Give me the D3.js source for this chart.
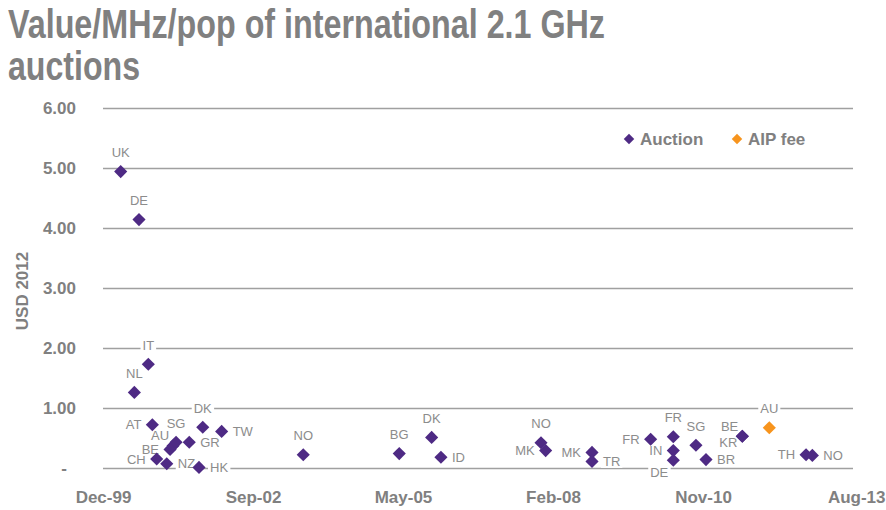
<!DOCTYPE html>
<html>
<head>
<meta charset="utf-8">
<script src="https://cdn.jsdelivr.net/npm/d3@7"></script>
<style>
  html, body { margin: 0; padding: 0; background: #fff; }
  svg { display: block; }
</style>
</head>
<body>
<svg id="chart" width="886" height="510"></svg>
<script>
// ---------- data ----------
const countries = ["UK","NL","DE","IT","AT","CH","NZ","BE","AU","SG","GR","HK","DK","TW",
                   "NO","BG","DK","ID","NO","MK","MK","TR","FR","FR","IN","DE","SG","BR","BE","KR","AU","TH","NO"];
const dates = ["2000-04-02","2000-07-02","2000-08-02","2000-10-03","2000-10-30","2000-11-28","2001-02-03",
               "2001-02-25","2001-03-17","2001-04-06","2001-07-03","2001-09-06","2001-10-01","2002-02-04",
               "2003-08-02","2005-05-03","2005-12-05","2006-02-05","2007-12-04","2008-01-04","2008-11-08",
               "2008-11-08","2009-12-04","2010-05-04","2010-05-04","2010-05-04","2010-10-02","2010-12-08",
               "2011-08-07","2011-08-07","2012-02-03","2012-10-05","2012-11-16"];
const values = [4.94,1.26,4.14,1.73,0.72,0.15,0.07,0.31,0.37,0.43,0.43,0.01,0.68,0.61,
                0.22,0.24,0.51,0.18,0.42,0.29,0.26,0.11,0.48,0.52,0.29,0.13,0.38,0.14,
                0.53,0.53,0.67,0.22,0.21];
const types = ["Auction","Auction","Auction","Auction","Auction","Auction","Auction","Auction","Auction","Auction",
               "Auction","Auction","Auction","Auction","Auction","Auction","Auction","Auction","Auction","Auction",
               "Auction","Auction","Auction","Auction","Auction","Auction","Auction","Auction","Auction","Auction",
               "AIP fee","Auction","Auction"];
const labelPlacement = ["above","above","above","above","left","left","right","left","aboveleft","above","right","right","above","right",
                        "above","above","above","right","above","left","left","right","left","above","left","belowleft","above","right",
                        "aboveleft","belowleft2","above","left","right"];
const seriesNames = ["Auction","AIP fee"];
const seriesColors = ["#4e2a84","#f7941d"];
const yTicks = [0,1,2,3,4,5,6];
const xTickDates = ["1999-12-06","2002-09-01","2005-05-28","2008-02-22","2010-11-18","2013-08-14"];
const xTickLabels = ["Dec-99","Sep-02","May-05","Feb-08","Nov-10","Aug-13"];
const titleLines = ["Value/MHz/pop of international 2.1 GHz","auctions"];
const yTitle = "USD 2012";

// ---------- setup ----------
const parse = d3.utcParse("%Y-%m-%d");
const svg = d3.select("#chart");
const margin = {left: 103, right: 33, top: 108, bottom: 42};
const W = 886, H = 510;
const gray = "#808080";
const font = '"Liberation Sans", Arial, sans-serif';

const x = d3.scaleUtc()
  .domain([parse(xTickDates[0]), parse(xTickDates[xTickDates.length-1])])
  .range([margin.left, W - margin.right]);
const y = d3.scaleLinear().domain([0, 6]).range([H - margin.bottom, margin.top]);
const color = d3.scaleOrdinal().domain(seriesNames).range(seriesColors);

const data = countries.map((c, i) => ({c, date: parse(dates[i]), v: values[i], t: types[i], p: labelPlacement[i]}));

// Title (condensed to match narrow face)
const titleWidths = [597, 132];
svg.append("g").selectAll("text").data(titleLines).join("text")
  .attr("x", 8).attr("y", (d, i) => 38 + i * 42)
  .attr("font-family", font).attr("font-weight", "bold").attr("font-size", 41)
  .attr("textLength", (d, i) => titleWidths[i]).attr("lengthAdjust", "spacingAndGlyphs")
  .attr("fill", gray).text(d => d);

// Gridlines via axis
const yAxis = svg.append("g").attr("transform", `translate(${margin.left},0)`)
  .call(d3.axisLeft(y).tickValues(yTicks).tickSize(-(W - margin.left - margin.right))
        .tickFormat(d => d === 0 ? "-" : d3.format(".2f")(d)));
yAxis.select(".domain").remove();
yAxis.selectAll(".tick line").attr("stroke", "#a0a0a0").attr("stroke-width", 1.3);
yAxis.selectAll(".tick text").attr("x", d => d === 0 ? -36 : -27)
  .attr("font-family", font).attr("font-weight", "bold").attr("font-size", 17).attr("fill", gray);

// X axis labels
const xAxis = svg.append("g").attr("transform", `translate(0,${H - margin.bottom})`)
  .call(d3.axisBottom(x).tickValues(xTickDates.map(parse)).tickSize(0)
        .tickFormat((d, i) => xTickLabels[i]));
xAxis.select(".domain").remove();
xAxis.selectAll(".tick text").attr("dy", 0).attr("y", 35)
  .attr("font-family", font).attr("font-weight", "bold").attr("font-size", 17).attr("fill", gray);
xAxis.selectAll(".tick").filter((d, i) => i === xTickDates.length - 1)
  .select("text").attr("text-anchor", "end").attr("x", 32);

// Y title
svg.append("text")
  .attr("transform", `translate(28,${(y(0) + y(6)) / 2 + 3}) rotate(-90)`)
  .attr("text-anchor", "middle")
  .attr("font-family", font).attr("font-weight", "bold").attr("font-size", 17).attr("fill", gray)
  .text(yTitle);

// Points
const diamond = d3.symbol().type(d3.symbolDiamond2).size(110);
const pts = svg.append("g");
pts.selectAll("path").data(data).join("path")
  .attr("d", diamond)
  .attr("transform", d => `translate(${x(d.date)},${y(d.v)})`)
  .attr("fill", d => color(d.t));

// Labels
const offs = {
  above: {dx: 0, dy: -19, a: "middle"},
  left: {dx: -11, dy: 0, a: "end"},
  right: {dx: 11, dy: 0, a: "start"},
  aboveleft: {dx: -4, dy: -10, a: "end"},
  belowleft: {dx: -5, dy: 12, a: "end"},
  belowleft2: {dx: -5, dy: 6, a: "end"}
};
const lg = svg.append("g");
data.forEach(d => {
  const o = offs[d.p];
  const px = x(d.date) + o.dx, py = y(d.v) + o.dy;
  const g = lg.append("g");
  const t = g.append("text").attr("x", px).attr("y", py)
    .attr("dy", "0.35em").attr("text-anchor", o.a)
    .attr("font-family", font).attr("font-size", 13)
    .attr("fill", "#8c8c8c").text(d.c);
  const b = t.node().getBBox();
  g.insert("rect", "text").attr("x", b.x - 2).attr("y", b.y + 1).attr("width", b.width + 4).attr("height", b.height - 2)
    .attr("fill", "#fff");
});
pts.raise();

// Legend
const leg = svg.append("g").attr("transform", "translate(629,139)");
const li = leg.selectAll("g").data(seriesNames).join("g")
  .attr("transform", (d, i) => `translate(${i * 108},0)`);
li.append("path").attr("d", d3.symbol().type(d3.symbolDiamond2).size(70)).attr("fill", d => color(d));
li.append("text").attr("x", 11).attr("dy", "0.35em")
  .attr("font-family", font).attr("font-weight", "bold").attr("font-size", 17).attr("fill", gray)
  .text(d => d);
</script>
</body>
</html>
